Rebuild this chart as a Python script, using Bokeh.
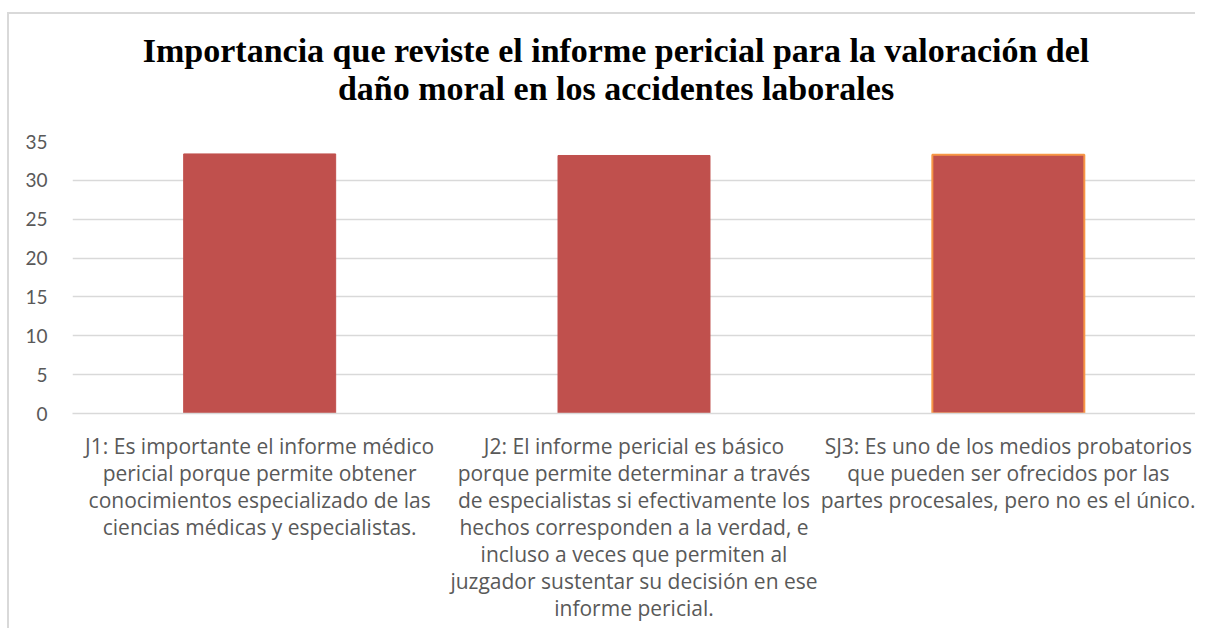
from bokeh.plotting import figure
from bokeh.models import Range1d, FixedTicker, ColumnDataSource, LinearAxis
from bokeh.embed import file_html
from bokeh.resources import INLINE

title_lines = ["Importancia que reviste el informe pericial para la valoración del",
               "daño moral en los accidentes laborales"]
categories = [
    ["J1: Es importante el informe médico", "pericial porque permite obtener",
     "conocimientos especializado de las", "ciencias médicas y especialistas."],
    ["J2: El informe pericial es básico", "porque permite determinar a través",
     "de especialistas si efectivamente los", "hechos corresponden a la verdad, e",
     "incluso a veces que permiten al", "juzgador sustentar su decisión en ese",
     "informe pericial."],
    ["SJ3: Es uno de los medios probatorios", "que pueden ser ofrecidos por las",
     "partes procesales, pero no es el único."],
]
values = [33.4, 33.2, 33.3]
y_ticks = [0, 5, 10, 15, 20, 25, 30, 35]

BAR = "#C0504D"
TITLE_X = 0.952  # horizontal anchor of the centred title (layout constant)
xpos = list(range(len(values)))
src = ColumnDataSource(dict(
    x=xpos, top=values,
    line_color=[BAR, BAR, "#F79646"],
    line_width=[1, 1, 2],
))

W, H = 1195, 628
p = figure(width=W, height=H, x_range=Range1d(-0.5, len(values) - 0.5),
           y_range=Range1d(0, 35), output_backend="svg", toolbar_location=None,
           min_border_left=72, min_border_right=0, min_border_top=141,
           min_border_bottom=H - 141 - 272)
p.vbar(x="x", top="top", width=0.406, source=src, fill_color=BAR,
       line_color="line_color", line_width="line_width")

p.outline_line_color = None
p.background_fill_color = "white"
p.border_fill_color = None
p.xgrid.grid_line_color = None
p.ygrid.grid_line_color = "#d9d9d9"
p.ygrid.grid_line_width = 1.5
p.yaxis.ticker = FixedTicker(ticks=y_ticks)
p.yaxis.axis_line_color = None
p.yaxis.major_tick_line_color = None
p.yaxis.minor_tick_line_color = None
p.yaxis.major_label_standoff = 19
p.yaxis.major_label_text_font = "Lato"
p.yaxis.major_label_text_font_size = "19px"
p.yaxis.major_label_text_color = "#595959"


def plain_axis(ax, standoff):
    ax.major_tick_line_color = None
    ax.minor_tick_line_color = None
    ax.major_tick_out = 0
    ax.major_tick_in = 0
    ax.major_label_standoff = standoff
    ax.major_label_orientation = "horizontal"


def style_x_axis(ax, line_idx, standoff):
    ax.ticker = FixedTicker(ticks=xpos)
    ax.major_label_overrides = {
        i: (lines[line_idx] if line_idx < len(lines) else "")
        for i, lines in enumerate(categories)
    }
    plain_axis(ax, standoff)
    ax.major_label_text_font = "Open Sans"
    ax.major_label_text_font_size = "21px"
    ax.major_label_text_color = "#595959"


xa = p.xaxis[0]
xa.axis_line_color = "#d9d9d9"
xa.axis_line_width = 1.5
style_x_axis(xa, 0, 18)
n_lines = max(len(c) for c in categories)
for k in range(1, n_lines):
    ax = LinearAxis(axis_line_color=None)
    style_x_axis(ax, k, -4)
    p.add_layout(ax, "below")

# title: two centred lines, drawn as label-only axes above the frame
for line, standoff in ((title_lines[1], 35), (title_lines[0], -2)):
    ta = LinearAxis(axis_line_color=None, ticker=FixedTicker(ticks=[TITLE_X]),
                    major_label_overrides={TITLE_X: line})
    plain_axis(ta, standoff)
    ta.major_label_text_font = "Liberation Serif"
    ta.major_label_text_font_style = "bold"
    ta.major_label_text_font_size = "34px"
    ta.major_label_text_color = "black"
    p.add_layout(ta, "above")

p.styles = {
    "background": "linear-gradient(#d9d9d9,#d9d9d9) 7px 12px / 2px 100% no-repeat, "
                  "linear-gradient(#d9d9d9,#d9d9d9) 7px 12px / 100% 2px no-repeat, white"
}

open("out.html", "w").write(file_html(p, INLINE))
